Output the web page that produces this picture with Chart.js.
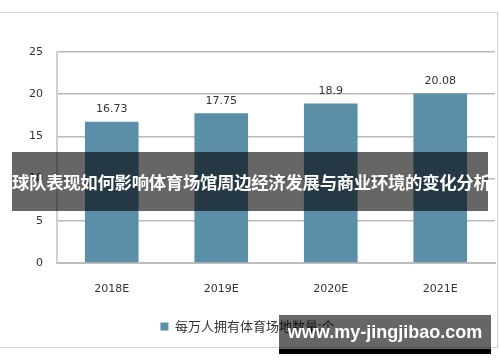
<!DOCTYPE html>
<html>
<head>
<meta charset="utf-8">
<script src="https://cdn.jsdelivr.net/npm/chart.js@4"></script>
<style>
  html, body { margin: 0; padding: 0; background: #fff; }
  #wrap { position: relative; width: 500px; height: 362px; overflow: hidden; }
  #frame {
    position: absolute; left: -2px; top: 12px; width: 500px; height: 336px;
    box-sizing: border-box; border: 1px solid #d4d4d4;
  }
  canvas { position: absolute; left: 0; top: 0; }
  #banner {
    position: absolute; left: 12px; top: 152px; width: 476px; height: 59px;
    background: rgba(0, 0, 0, 0.6); color: #fff;
    font-family: "Noto Sans CJK SC", sans-serif; font-weight: bold; font-size: 17.4px;
    line-height: 59px; text-align: center; white-space: nowrap; letter-spacing: -0.3px;
  }
  #mark {
    position: absolute; left: 279px; top: 315px; width: 212px; height: 34px;
    background: rgba(0, 0, 0, 0.6); border-bottom: 5px solid #000;
    color: #fff; font-family: "Liberation Sans", sans-serif; font-weight: bold;
    font-size: 18px; line-height: 34px; text-align: center;
  }
</style>
</head>
<body>
<div id="wrap">
  <div id="frame"></div>
  <canvas id="chart" width="500" height="362"></canvas>
  <div id="banner">球队表现如何影响体育场馆周边经济发展与商业环境的变化分析</div>
  <div id="mark">www.my-jingjibao.com</div>
</div>
<script>
// data
const categories = ["2018E", "2019E", "2020E", "2021E"];
const venues = [16.73, 17.75, 18.9, 20.08];
const valueLabels = ["16.73", "17.75", "18.9", "20.08"];
const seriesName = "每万人拥有体育场地数量:个";

const barColor = "#5a8fa7";
const textColor = "#333333";

// value labels above each bar
const barLabels = {
  id: "barLabels",
  afterDatasetsDraw(chart) {
    const ctx = chart.ctx;
    const meta = chart.getDatasetMeta(0);
    ctx.save();
    ctx.font = "11px 'DejaVu Sans'";
    ctx.fillStyle = textColor;
    ctx.textAlign = "center";
    ctx.textBaseline = "bottom";
    meta.data.forEach((bar, i) => {
      ctx.fillText(valueLabels[i], bar.x, bar.y - 7);
    });
    ctx.restore();
  }
};

new Chart(document.getElementById("chart"), {
  type: "bar",
  data: {
    labels: categories,
    datasets: [{
      label: seriesName,
      data: venues,
      backgroundColor: barColor,
      borderWidth: 0,
      categoryPercentage: 1,
      barPercentage: 0.49
    }]
  },
  options: {
    responsive: false,
    animation: false,
    layout: { padding: { left: 0, right: 5, top: 52, bottom: 19 } },
    plugins: {
      legend: {
        position: "bottom",
        labels: {
          boxWidth: 8,
          boxHeight: 8,
          padding: 10,
          color: textColor,
          font: { family: "'Noto Sans CJK SC'", size: 13 }
        }
      },
      tooltip: { enabled: false }
    },
    scales: {
      x: {
        grid: { display: false },
        border: { color: "#bdbdbd", width: 2 },
        ticks: {
          color: textColor,
          padding: 12,
          font: { family: "'DejaVu Sans'", size: 11 }
        },
        afterFit(scale) { scale.height = 47; }
      },
      y: {
        min: 0,
        max: 25,
        ticks: {
          stepSize: 5,
          color: textColor,
          padding: 14,
          font: { family: "'DejaVu Sans'", size: 11 }
        },
        grid: { color: "#bababa", lineWidth: 1.5, drawTicks: false },
        border: { color: "#d0d0d0", width: 2 },
        afterFit(scale) { scale.width = 57; }
      }
    }
  },
  plugins: [barLabels]
});
</script>
</body>
</html>
